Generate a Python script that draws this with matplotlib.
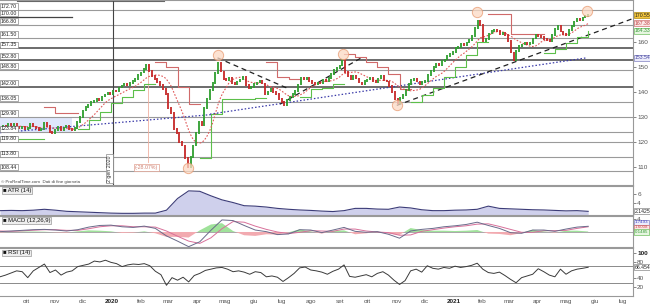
import numpy as np
import pandas as pd
import matplotlib
matplotlib.use("Agg")
import matplotlib.pyplot as plt
import matplotlib.dates as mdates
from matplotlib.patches import Rectangle

plt.rcParams['font.family'] = ['Liberation Sans', 'DejaVu Sans']

# ---------------- data ----------------
start_date = '2019-09-03'
end_data = '2021-05-25'
end_axis = '2021-07-12'

close = [
    125.5, 126.2, 125.8, 127.0, 126.4, 127.1, 126.0, 125.3, 125.8, 124.9,
    125.6, 127.0, 126.1, 125.4, 124.5, 125.2, 127.5, 126.3, 123.8, 123.4,
    124.6, 125.9, 124.8, 125.7, 126.2, 125.1, 124.7, 125.6, 127.8, 130.0,
    132.5, 133.8, 134.6, 135.9, 136.4, 137.2, 136.8, 138.1, 138.9, 139.5,
    139.2, 140.3, 140.0, 141.6, 142.4, 143.0, 142.6, 143.5, 144.2, 145.0,
    146.6, 147.6, 148.9, 150.8, 148.3, 146.2, 145.0, 143.8, 142.5, 141.0,
    139.0, 133.5, 131.5, 125.0, 123.5, 120.0, 118.5, 113.5, 110.0, 114.0,
    118.5, 123.5, 128.0, 126.5, 133.5, 137.0, 140.5, 143.5, 147.5, 151.5,
    148.0, 145.0, 144.5, 145.5, 143.5, 143.0, 144.0, 144.8, 146.0, 142.5,
    141.5, 141.8, 143.0, 143.6, 144.2, 143.2, 139.0, 140.0, 141.0, 139.8,
    139.2, 137.0, 135.8, 134.5, 136.8, 137.9, 139.0, 140.2, 142.8, 145.3,
    145.0, 145.6, 144.2, 143.4, 142.8, 143.6, 143.2, 144.5, 144.0, 145.4,
    147.0, 148.6, 149.3, 150.4, 152.6, 147.8, 146.2, 145.0, 146.3, 145.2,
    143.6, 142.9, 144.1, 144.8, 145.3, 144.2, 143.9, 145.2, 146.2, 144.4,
    144.0, 142.3, 139.8, 137.2, 135.6, 137.6, 138.8, 140.6, 143.1, 144.6,
    145.2, 144.0, 142.8, 143.9, 144.3, 146.6, 148.2, 149.8, 151.2, 150.6,
    152.1, 152.8, 154.2, 155.0, 155.8, 157.5, 157.9, 158.9, 158.4, 159.6,
    160.6, 162.3, 165.4, 168.2, 166.6, 160.2, 161.0, 163.2, 164.1, 164.6,
    164.2, 163.1, 163.6, 162.5, 160.1, 155.6, 152.4, 156.2, 158.1, 158.8,
    159.4, 158.8, 159.5, 161.2, 162.7, 162.2, 161.8, 161.0, 160.6, 160.1,
    162.6, 165.1, 166.2, 164.0, 162.9, 162.7, 164.6, 166.1, 168.0, 168.9,
    168.6, 169.6, 170.1, 170.55,
]

nan = np.nan
green_stop = [121.0, 121.0, 121.0, 121.0, nan, nan, nan, 125.0, 128.5, 132.0,
              135.5, 138.0, 140.5, 143.0, nan, nan, nan, nan, 113.5, 131.0,
              137.0, 137.0, 137.0, 137.5, nan, nan, nan, 138.0, 141.0, 141.5,
              143.0, nan, nan, nan, nan, nan, nan, 136.0, 138.5, 141.5,
              146.0, 150.0, 154.5, 160.0, nan, nan, nan, nan, nan, 155.3,
              157.0, 159.5, 162.0, 164.33]
red_stop = [nan, nan, nan, nan, 134.0, 131.5, 131.5, nan, nan, nan,
            nan, nan, nan, nan, 152.0, 150.0, 142.0, 135.0, nan, nan,
            nan, nan, nan, nan, 152.0, 146.0, 145.0, nan, nan, nan,
            nan, 155.0, 154.0, 152.0, 150.0, 147.0, 141.0, nan, nan, nan,
            nan, nan, nan, nan, 171.0, 171.0, 163.0, 163.0, 163.0, nan,
            nan, nan, nan, nan]

atr = [2.3, 2.35, 2.3, 2.4, 2.6, 2.4, 2.15, 2.05, 1.95, 1.85,
       1.75, 1.7, 1.7, 1.75, 1.75, 2.4, 5.0, 6.7, 6.6, 5.6,
       4.7, 4.1, 3.4, 3.3, 3.1, 2.8, 2.6, 2.45, 2.35, 2.2,
       2.1, 2.3, 2.8, 2.8, 2.65, 2.6, 3.1, 2.9, 2.5, 2.3,
       2.3, 2.4, 2.45, 2.6, 3.3, 2.8, 2.7, 2.6, 2.5, 2.45,
       2.35, 2.25, 2.3, 2.1425]

macd = [0.1, 0.3, 0.5, 0.7, 0.8, 0.6, 0.3, 0.7, 1.5, 2.0,
        2.1, 1.6, 1.4, 1.8, 1.1, -1.2, -2.8, -4.5, -3.0, 0.5,
        3.7, 3.5, 2.0, 0.6, 0.1, -0.8, -0.6, 0.7, 0.6, -0.2,
        0.6, 1.4, 0.2, -0.1, 0.1, -0.7, -1.9, 0.3, 0.8, 1.1,
        1.6, 1.9, 2.3, 3.0, 2.0, 1.1, -0.2, -0.4, 0.6, 0.6,
        0.2, 0.9, 1.5, 1.75]
signal = [0.3, 0.2, 0.35, 0.55, 0.7, 0.7, 0.5, 0.5, 1.0, 1.6,
          1.9, 1.9, 1.6, 1.6, 1.5, 0.3, -1.3, -2.8, -3.5, -1.8,
          1.0, 3.2, 3.0, 1.8, 0.8, 0.0, -0.5, -0.1, 0.4, 0.3,
          0.2, 0.9, 0.9, 0.3, 0.0, -0.2, -1.0, -0.9, 0.2, 0.7,
          1.2, 1.6, 1.9, 2.4, 2.5, 1.7, 0.8, -0.1, -0.1, 0.4,
          0.4, 0.5, 1.1, 1.6]

rsi = [44, 48, 53, 58, 56, 42, 58, 66, 74, 54,
       60, 48, 55, 58, 68, 71, 74, 81, 79, 83,
       78, 75, 68, 72, 74, 73, 75, 70, 57, 49,
       24, 42, 36, 43, 32, 47, 52, 59, 62, 65,
       66, 62, 56, 58, 55, 50, 56, 54, 44, 46,
       43, 33, 42, 52, 65, 67, 60, 58, 55, 50,
       57, 62, 72, 45, 43, 46, 49, 44, 52, 56,
       48, 36, 26, 35, 58, 62, 55, 70, 64, 62,
       66, 64, 69, 66, 68, 71, 76, 62, 54, 52,
       55, 47, 38, 30, 42, 46, 50, 63, 56, 48,
       44, 62, 50, 58, 62, 64, 66.454]

levels = [172.70, 166.80, 161.50, 157.35, 152.80, 148.80, 142.00,
          136.05, 129.90, 123.84, 119.80, 113.80, 108.44]
level_labels = ['172.70', '170.00', '166.80', '161.50', '157.35', '152.80', '148.80',
                '142.00', '136.05', '129.90', '123.84', '119.80', '113.80', '108.44']
level_label_values = [172.70, 170.00, 166.80, 161.50, 157.35, 152.80, 148.80,
                      142.00, 136.05, 129.90, 123.84, 119.80, 113.80, 108.44]
dark_levels = [157.35, 152.80, 142.00]

circle_dates = ['2020-03-22', '2020-04-23', '2020-09-04', '2020-11-01', '2021-01-26', '2021-05-24']
circle_values = [109.5, 154.5, 155.0, 134.7, 172.0, 172.3]

black_tl_dates = [('2020-04-23', '2020-07-09'), ('2020-06-29', '2020-09-24'), ('2020-11-01', '2021-07-12')]
black_tl_values = [(153.5, 141.0), (135.0, 153.5), (134.5, 169.2)]
blue_tl_dates = [('2019-09-03', '2020-04-25'), ('2020-04-15', '2021-05-24')]
blue_tl_values = [(123.6, 131.1), (131.0, 153.54)]

month_ticks = pd.date_range('2019-10-01', '2021-07-01', freq='MS')
month_names = ['ott', 'nov', 'dic', '2020', 'feb', 'mar', 'apr', 'mag', 'giu', 'lug', 'ago',
               'set', 'ott', 'nov', 'dic', '2021', 'feb', 'mar', 'apr', 'mag', 'giu', 'lug']

# ---------------- figure ----------------
W, H = 650, 307
fig = plt.figure(figsize=(W / 100, H / 100), dpi=100)
fig.patch.set_facecolor('white')

def ax_px(top, bottom, left=0, right=633):
    return fig.add_axes([left / W, 1 - bottom / H, (right - left) / W, (bottom - top) / H])

ax_main = ax_px(0, 185)
ax_atr = ax_px(186, 215)
ax_macd = ax_px(216, 247)
ax_rsi = ax_px(248, 296)

d_price = pd.date_range(start_date, end_data, periods=len(close))
d_ind = pd.date_range(start_date, end_data, periods=len(atr))
d_rsi = pd.date_range(start_date, end_data, periods=len(rsi))
xn = mdates.date2num
x0, x1 = xn(pd.Timestamp(start_date)), xn(pd.Timestamp(end_axis))

tick_col = '#555555'
for ax in (ax_main, ax_atr, ax_macd, ax_rsi):
    ax.set_xlim(x0, x1)
    ax.yaxis.tick_right()
    ax.tick_params(axis='y', labelsize=4.6, colors=tick_col, length=2, width=0.5, pad=1)
    ax.tick_params(axis='x', length=0)
    ax.set_xticks([])
    ax.spines['left'].set_visible(False)
    for s in ('right', 'top', 'bottom'):
        ax.spines[s].set_color('#999999')
        ax.spines[s].set_linewidth(0.8)

def rlabel(a, y, txt, fc, ec, tc, fs=3.7):
    a.text(1.003, y, txt, transform=a.get_yaxis_transform(), fontsize=fs, color=tc,
           ha='left', va='center', clip_on=False,
           bbox=dict(boxstyle='square,pad=0.12', fc=fc, ec=ec, lw=0.5), zorder=8)

# ---- main panel ----
ax = ax_main
ax.set_ylim(102.7, 176.6)
ax.set_yticks([110, 120, 130, 140, 150, 160])

ax.add_patch(Rectangle((xn(pd.Timestamp('2019-09-03')), 123.84),
                       xn(pd.Timestamp('2019-11-19')) - xn(pd.Timestamp('2019-09-03')),
                       129.90 - 123.84, facecolor='#dfe7fb', edgecolor='none', zorder=0))

for lv in levels:
    if lv in dark_levels:
        ax.axhline(lv, color='#444444', lw=1.1, zorder=1)
    else:
        ax.axhline(lv, color='#9a9a9a', lw=0.8, zorder=1)
ax.plot([xn(pd.Timestamp('2019-09-03')), xn(pd.Timestamp('2019-11-19'))], [170.0, 170.0],
        color='#444444', lw=0.9, zorder=1)
ax.plot([xn(pd.Timestamp('2019-09-21')), xn(pd.Timestamp('2020-02-26'))], [176.2, 176.2],
        color='#666666', lw=0.8, zorder=1)

vdate = xn(pd.Timestamp('2020-01-02'))
ax.axvline(vdate, color='#444444', lw=0.8, zorder=2)
ax.text(vdate - 1.5, 104.0, '2 gen 2020', rotation=90, fontsize=3.8, color='#333333',
        ha='right', va='bottom',
        bbox=dict(boxstyle='square,pad=0.2', fc='white', ec='#888888', lw=0.5), zorder=6)

for (da, db), (va, vb) in zip(blue_tl_dates, blue_tl_values):
    ax.plot([xn(pd.Timestamp(da)), xn(pd.Timestamp(db))], [va, vb], color='#3a3aa8',
            lw=0.9, ls=(0, (1.2, 1.6)), zorder=3)
for (da, db), (va, vb) in zip(black_tl_dates, black_tl_values):
    ax.plot([xn(pd.Timestamp(da)), xn(pd.Timestamp(db))], [va, vb], color='#222222',
            lw=0.9, ls=(0, (4, 3)), zorder=3)

peak_d = xn(pd.Timestamp('2020-02-08'))
ax.plot([peak_d, peak_d], [151.0, 112.0], color='#f0b0a0', lw=0.6, zorder=2)
ax.text(xn(pd.Timestamp('2020-02-07')), 109.8, '(-28.07%)', fontsize=3.8, color='#d08070',
        ha='center', va='center',
        bbox=dict(boxstyle='square,pad=0.2', fc='white', ec='#e0a090', lw=0.5), zorder=6)

ax.plot(d_ind, green_stop, color='#5cbf4a', lw=0.8, drawstyle='steps-post', zorder=4)
ax.plot(d_ind, red_stop, color='#d06a6a', lw=0.8, drawstyle='steps-post', zorder=4)

ma = pd.Series(close).rolling(10, min_periods=1).mean().values
ax.plot(d_price, ma, color='#e05858', lw=0.8, ls=(0, (1.5, 1.5)), zorder=4)

c = np.array(close)
o = np.concatenate([[c[0]], c[:-1]])
up = c >= o
cols = np.where(up, '#2e9e2e', '#c62828')
lo = np.minimum(o, c) - 0.35
hi = np.maximum(o, c) + 0.35
ax.vlines(d_price, lo, hi, colors=cols, lw=1.3, zorder=5)

ax.scatter(pd.to_datetime(circle_dates), circle_values, s=55, facecolor='#fbd9c4',
           edgecolor='#e89a70', lw=0.7, alpha=0.75, zorder=6)

for lab, val in zip(level_labels, level_label_values):
    ax.text(x0 + 0.8, val + 0.35, lab, fontsize=3.8, color='#222222', ha='left', va='bottom',
            bbox=dict(boxstyle='square,pad=0.12', fc='white', ec='#888888', lw=0.5), zorder=7)

rlabel(ax, 170.55, '170.55', '#f3c53a', '#b08a10', '#222222')
rlabel(ax, 167.38, '167.38', '#fbe6e6', '#d07070', '#c04040')
rlabel(ax, 164.33, '164.33', '#e6f6e0', '#70c060', '#3a9a3a')
rlabel(ax, 153.54, '153.54', '#ececfb', '#8080c0', '#4848a0')

ax.text(x0 + 1, 103.2, '© ProRealTime.com  Dati di fine giornata', fontsize=3.2,
        color='#444444', ha='left', va='bottom', zorder=7)

# ---- ATR ----
ax = ax_atr
ax.set_ylim(1.33, 7.78)
ax.set_yticks([4, 6])
ax.fill_between(d_ind, atr, 1.33, color='#cfd0ec', lw=0, zorder=1)
ax.plot(d_ind, atr, color='#3c3c78', lw=0.8, zorder=2)
rlabel(ax, 2.1425, '2.1425', 'white', '#888888', '#222222')
ax.text(0.004, 0.93, '■ ATR (14)', transform=ax.transAxes, fontsize=4.2, color='#111111',
        ha='left', va='top', bbox=dict(boxstyle='square,pad=0.15', fc='#eeeeee', ec='#999999', lw=0.5))

# ---- MACD ----
ax = ax_macd
ax.set_ylim(-4.6, 4.9)
ax.set_yticks([4])
m = np.array(macd)
s = np.array(signal)
h = m - s
ax.fill_between(d_ind, h, 0, where=h >= 0, interpolate=True, color='#9fe29a', lw=0, zorder=1)
ax.fill_between(d_ind, h, 0, where=h < 0, interpolate=True, color='#f2aab0', lw=0, zorder=1)
ax.axhline(0, color='#9a9a9a', lw=0.6, zorder=0)
ax.plot(d_ind, s, color='#d8709a', lw=0.7, zorder=2)
ax.plot(d_ind, m, color='#6a6a8a', lw=0.7, zorder=3)
rlabel(ax, 2.95, '1.7493', '#ececfb', '#8080c0', '#4040c0', fs=3.2)
rlabel(ax, 1.5, '1.6008', '#fbe6e6', '#d07070', '#d05050', fs=3.2)
rlabel(ax, 0.0, '0.1485', '#e6f6e0', '#70c060', '#3a9a3a', fs=3.2)
ax.text(0.004, 0.93, '■ MACD (12,26,9)', transform=ax.transAxes, fontsize=4.2, color='#111111',
        ha='left', va='top', bbox=dict(boxstyle='square,pad=0.15', fc='#eeeeee', ec='#999999', lw=0.5))

# ---- RSI ----
ax = ax_rsi
ax.set_ylim(-1.2, 111.8)
ax.set_yticks([20, 40, 80, 100])
ax.set_yticklabels(['20', '40', '80', '100'])
ax.get_yticklabels()[-1].set_fontweight('bold')
ax.get_yticklabels()[-1].set_color('#222222')
ax.axhline(70, color='#8a8a8a', lw=0.7)
ax.axhline(30, color='#8a8a8a', lw=0.7)
ax.plot(d_rsi, rsi, color='#3a3a3a', lw=0.7)
rlabel(ax, 66.454, '66.454', 'white', '#888888', '#222222')
ax.text(0.004, 0.95, '■ RSI (14)', transform=ax.transAxes, fontsize=4.2, color='#111111',
        ha='left', va='top', bbox=dict(boxstyle='square,pad=0.15', fc='#eeeeee', ec='#999999', lw=0.5))

ax.set_xticks(month_ticks)
ax.set_xticklabels(month_names)
ax.tick_params(axis='x', labelsize=4.6, colors=tick_col, length=0, pad=2.5)
for t in ax.get_xticklabels():
    if t.get_text() in ('2020', '2021'):
        t.set_fontweight('bold')
        t.set_color('#222222')

fig.savefig('out.png', dpi=100, facecolor='white')
